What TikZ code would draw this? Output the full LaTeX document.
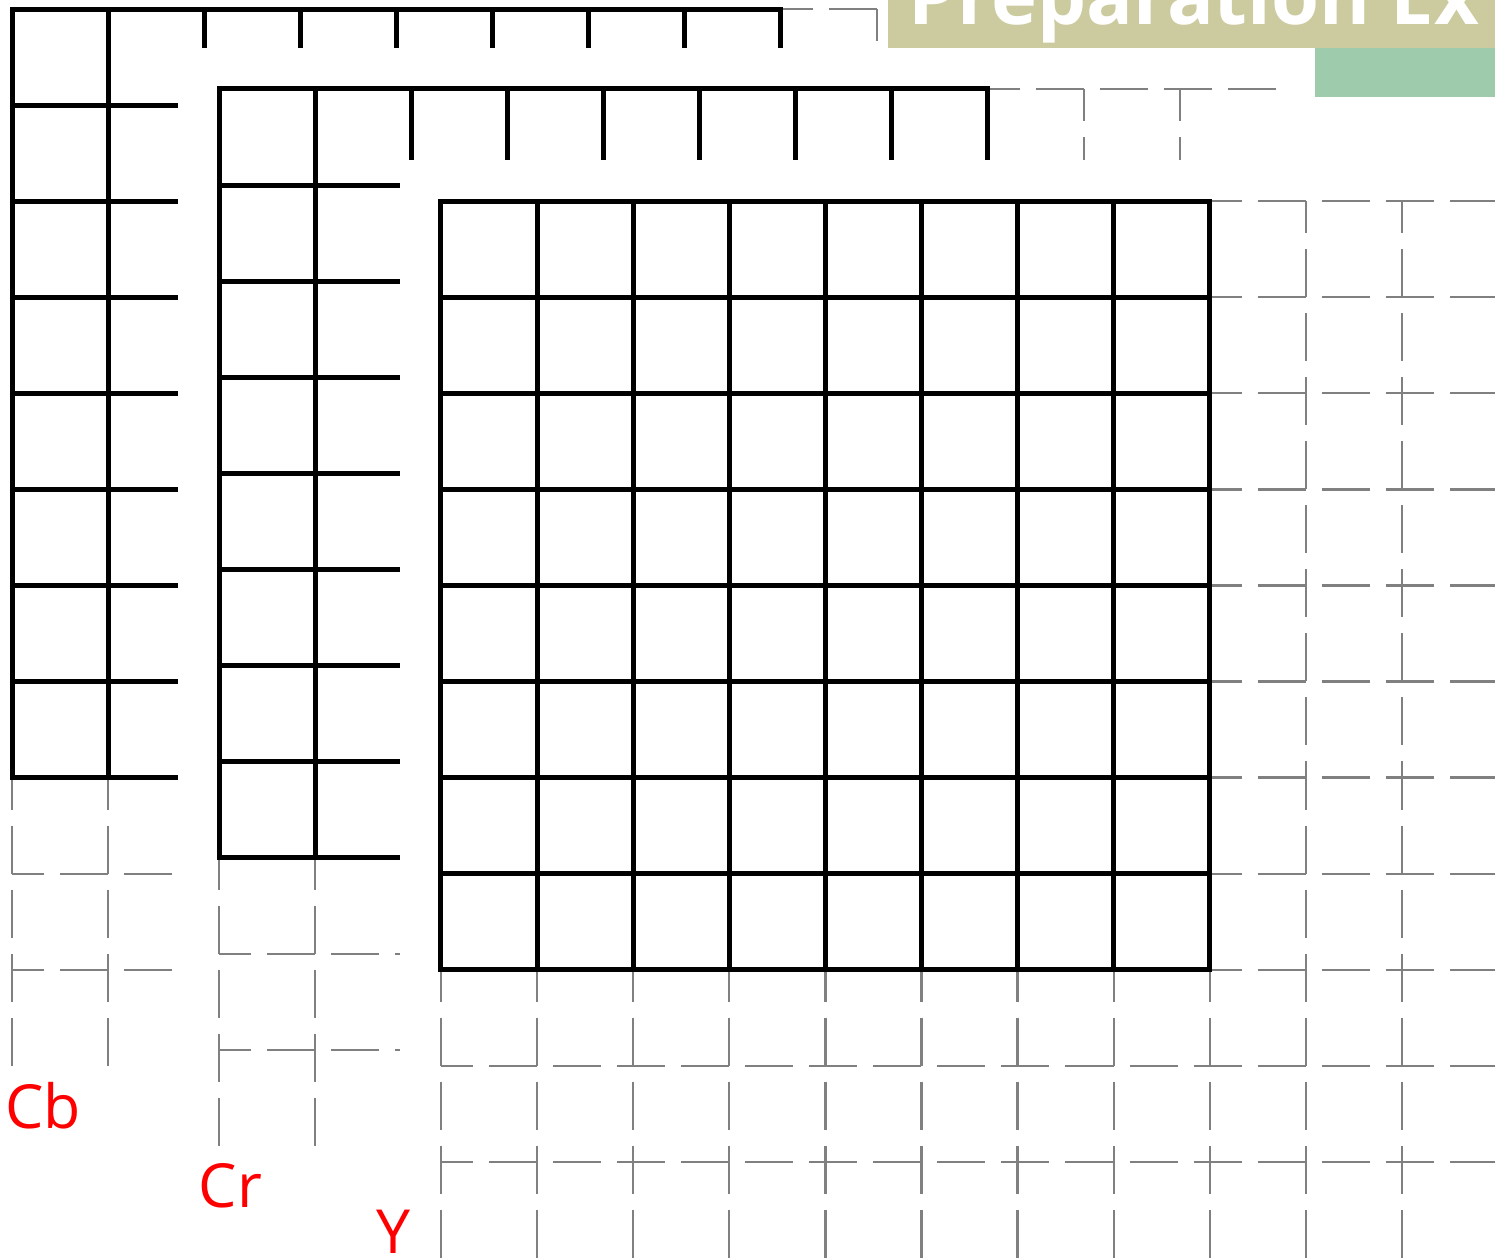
\documentclass[tikz,border=0pt]{standalone}
\usepackage{fontspec}
\setmainfont{Open Sans}
\usepackage{xcolor}
\usepackage{tikz}

\definecolor{titlekhaki}{RGB}{204,203,159}
\definecolor{titlegreen}{RGB}{158,203,171}
\definecolor{extgray}{RGB}{128,128,128}

\begin{document}
\begin{tikzpicture}[
  x=1cm, y=-1cm,
  cell/.style={line width=1.48pt, line cap=rect},
  ext/.style={draw=extgray, line width=0.7pt,
              dash pattern=on 0.5cm off 0.1665cm, dash phase=0.1665cm},
  plane/.style={fill=white},
  chanlab/.style={anchor=base west, inner sep=0pt, text=red,
                  font=\fontsize{18}{20}\selectfont},
  barlab/.style={anchor=base west, inner sep=0pt, text=white,
                 font=\fontsize{23}{25}\selectfont\bfseries}
]
\useasboundingbox (0,0) rectangle (15.557,13.111);
\clip (0,0) rectangle (15.557,13.111);

% planes, back to front: Cb, Cr, Y
\foreach \ox/\oy in {0.125/0.094, 2.279/0.926, 4.589/2.092} {
  \begin{scope}[shift={(\ox,\oy)}]
    \fill[plane] (-0.43,-0.43) rectangle (11.43,11.43);
    \foreach \k in {0,...,10} {
      \draw[ext] (\k,0) -- (\k,11);
      \draw[ext] (0,\k) -- (11,\k);
    }
    \foreach \k in {0,...,8} {
      \draw[cell] (\k,0) -- (\k,8);
      \draw[cell] (0,\k) -- (8,\k);
    }
  \end{scope}
}

% title bar, cut by the page edge
\fill[titlekhaki] (9.240,0) rectangle (15.6,0.5);
\fill[titlegreen] (13.684,0.5) rectangle (15.6,1.006);
\node[barlab] (title) at (9.45,0.260) {Preparation Ex};

% channel names
\node[chanlab] (cb) at (0.05,11.738) {Cb};
\node[chanlab] (cr) at (2.06,12.570) {Cr};
\node[chanlab] (y) at (3.913,13.049) {Y};
\end{tikzpicture}
\end{document}
